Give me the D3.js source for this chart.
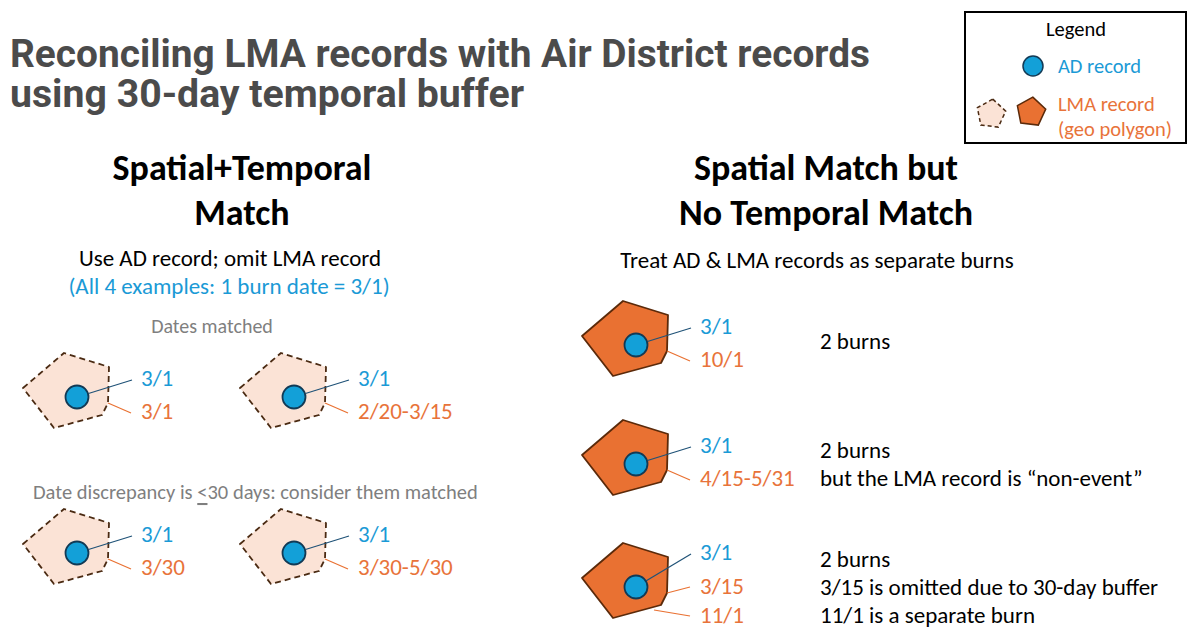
<!DOCTYPE html>
<html>
<head>
<meta charset="utf-8">
<script src="https://cdn.jsdelivr.net/npm/d3@7"></script>
<style>
  html, body { margin: 0; padding: 0; background: #fff; }
  svg { display: block; }
  text { font-family: Carlito, Calibri, Lato, "Noto Sans", sans-serif; }
</style>
</head>
<body>
<svg id="chart" width="1190" height="629"></svg>
<script>
// ---------------- data ----------------
const titleLines = ["Reconciling LMA records with Air District records", "using 30-day temporal buffer"];
const sectionTitles = [["Spatial+Temporal", "Match"], ["Spatial Match but", "No Temporal Match"]];
const sectionSubtitles = ["Use AD record; omit LMA record", "Treat AD & LMA records as separate burns"];
const leftNote = "(All 4 examples: 1 burn date = 3/1)";
const groupLabels = ["Dates matched", "Date discrepancy is ≤30 days: consider them matched"];
const exampleIds = ["m1", "m2", "d1", "d2", "s1", "s2", "s3"];
const exampleKind = ["match", "match", "match", "match", "separate", "separate", "separate"];
const adDates = ["3/1", "3/1", "3/1", "3/1", "3/1", "3/1", "3/1"];
const lmaDates = [["3/1"], ["2/20-3/15"], ["3/30"], ["3/30-5/30"], ["10/1"], ["4/15-5/31"], ["3/15", "11/1"]];
const outcomeNotes = [[], [], [], [], ["2 burns"], ["2 burns", "but the LMA record is \u201cnon-event\u201d"],
  ["2 burns", "3/15 is omitted due to 30-day buffer", "11/1 is a separate burn"]];
const legendTitle = "Legend";
const legendItems = ["AD record", "LMA record", "(geo polygon)"];

// --------------- style ---------------
const C = {
  title: "#4b4b4b", blue: "#1a9ad6", orange: "#e8733a", gray: "#7f7f7f",
  circleFill: "#13a0d8", circleStroke: "#123a55", polyFill: "#e97132", polyStroke: "#5b2a0a",
  lightFill: "#fbe3d6", dashStroke: "#4a2a12", blueLeader: "#1f5277", orangeLeader: "#e97132"
};
const polyShape = [[-54, -9], [-13, -44], [32, -30], [31, 6], [25, 18], [-23, 31]];
const FS = 23;

const svg = d3.select("#chart");

// layout scales
const leftCol = d3.scalePoint().domain([0, 1]).range([77, 294]);
const leftRow = d3.scalePoint().domain([0, 1]).range([397, 553]);
const rightRow = d3.scaleOrdinal().domain([0, 1, 2]).range([345, 464, 587]);
const rightX = 636;

const examples = exampleIds.map((id, i) => {
  let cx, cy;
  if (i < 4) { cx = leftCol(i % 2); cy = leftRow(Math.floor(i / 2)); }
  else { cx = rightX; cy = rightRow(i - 4); }
  return { id, kind: exampleKind[i], ad: adDates[i], lma: lmaDates[i], notes: outcomeNotes[i], cx, cy };
});

// --------------- title ---------------
svg.selectAll("text.title").data(titleLines).join("text")
  .attr("class", "title")
  .attr("x", 10).attr("y", (d, i) => 67 + i * 40)
  .attr("fill", C.title)
  .style("font-family", "Roboto, 'Open Sans', sans-serif")
  .style("font-weight", 700).style("font-size", "38px")
  .attr("textLength", (d, i) => i === 0 ? 860 : 514)
  .attr("lengthAdjust", "spacingAndGlyphs")
  .text(d => d);

// --------------- legend ---------------
const lg = svg.append("g");
lg.append("rect").attr("x", 965).attr("y", 12).attr("width", 221).attr("height", 131)
  .attr("fill", "#fff").attr("stroke", "#000").attr("stroke-width", 2);
lg.append("text").attr("x", 1076).attr("y", 29).attr("text-anchor", "middle")
  .attr("dominant-baseline", "central").style("font-size", "20.5px").attr("fill", "#000").text(legendTitle);
lg.append("circle").attr("cx", 1033).attr("cy", 66).attr("r", 10)
  .attr("fill", C.circleFill).attr("stroke", C.circleStroke).attr("stroke-width", 1.5);
const pent = (cx, cy, r) => d3.range(5).map(k => {
  const a = -Math.PI / 2 + k * 2 * Math.PI / 5 + 0.12;
  return [cx + r * Math.cos(a), cy + r * Math.sin(a)];
});
lg.append("path").attr("d", d3.line()(pent(991, 114, 15)) + "Z")
  .attr("fill", C.lightFill).attr("stroke", C.dashStroke).attr("stroke-width", 1.5).attr("stroke-dasharray", "4,3");
lg.append("path").attr("d", d3.line()(pent(1031, 112, 15)) + "Z")
  .attr("fill", C.polyFill).attr("stroke", C.polyStroke).attr("stroke-width", 1.5);
lg.selectAll("text.li").data(legendItems).join("text").attr("class", "li")
  .attr("x", 1058).attr("y", (d, i) => [66, 104, 129][i])
  .attr("dominant-baseline", "central").style("font-size", "20.5px")
  .attr("fill", (d, i) => i === 0 ? C.blue : C.orange).text(d => d);

// --------------- section headers ---------------
const secX = [242, 826];
sectionTitles.forEach((lines, s) => {
  svg.selectAll("text.sec" + s).data(lines).join("text").attr("class", "sec" + s)
    .attr("x", secX[s]).attr("y", (d, i) => 168 + i * 45)
    .attr("text-anchor", "middle").attr("dominant-baseline", "central")
    .style("font-size", "36px").style("font-weight", 700).attr("fill", "#000").text(d => d);
});
svg.selectAll("text.sub").data(sectionSubtitles).join("text").attr("class", "sub")
  .attr("x", (d, i) => [230, 817][i]).attr("y", (d, i) => [258, 260][i])
  .attr("text-anchor", "middle").attr("dominant-baseline", "central")
  .style("font-size", FS + "px").attr("fill", "#000").text(d => d);
svg.append("text").attr("x", 229).attr("y", 286).attr("text-anchor", "middle").attr("dominant-baseline", "central")
  .style("font-size", FS + "px").attr("fill", C.blue).text(leftNote);

// group labels
svg.append("text").attr("x", 212).attr("y", 326).attr("text-anchor", "middle").attr("dominant-baseline", "central")
  .style("font-size", "20px").attr("fill", C.gray).text(groupLabels[0]);
const g2 = svg.append("text").attr("x", 33).attr("y", 492).attr("dominant-baseline", "central")
  .style("font-size", "20.5px").attr("fill", C.gray);
const parts = groupLabels[1].split("≤");
g2.append("tspan").text(parts[0]);
g2.append("tspan").style("text-decoration", "underline").text("<");
g2.append("tspan").text(parts[1]);

// --------------- examples ---------------
const eg = svg.selectAll("g.ex").data(examples).join("g").attr("class", "ex")
  .attr("transform", d => `translate(${d.cx},${d.cy})`);

eg.append("path").attr("d", d3.line()(polyShape) + "Z")
  .attr("fill", d => d.kind === "match" ? C.lightFill : C.polyFill)
  .attr("stroke", d => d.kind === "match" ? C.dashStroke : C.polyStroke)
  .attr("stroke-width", 1.8)
  .attr("stroke-dasharray", d => d.kind === "match" ? "6,4" : null)
  .attr("stroke-linejoin", "round");

const labX = 64;
const adY = d => d.lma.length > 1 ? -35 : -19;
const lmaY = (d, j) => d.lma.length > 1 ? j * 29 - 1 : 14;

// blue leader
eg.append("line")
  .attr("x1", d => { const ex = labX - 9, ey = adY(d) + 2; const L = Math.hypot(ex, ey); return ex / L * 12; })
  .attr("y1", d => { const ex = labX - 9, ey = adY(d) + 2; const L = Math.hypot(ex, ey); return ey / L * 12; })
  .attr("x2", labX - 9).attr("y2", d => adY(d) + 2)
  .attr("stroke", C.blueLeader).attr("stroke-width", 1.2);

// orange leaders
const lmaStart = [[31, 6], [18, 23]];
eg.each(function (d) {
  const g = d3.select(this);
  d.lma.forEach((t, j) => {
    const st = d.lma.length > 1 ? lmaStart[j] : lmaStart[0];
    g.append("line").attr("x1", st[0]).attr("y1", st[1])
      .attr("x2", labX - 10).attr("y2", lmaY(d, j) + (d.lma.length > 1 ? 1 : 2))
      .attr("stroke", C.orangeLeader).attr("stroke-width", 1.2);
    g.append("text").attr("x", labX).attr("y", lmaY(d, j)).attr("dominant-baseline", "central")
      .style("font-size", FS + "px").attr("fill", C.orange).text(t);
  });
  g.append("text").attr("x", labX).attr("y", adY(d)).attr("dominant-baseline", "central")
    .style("font-size", FS + "px").attr("fill", C.blue).text(d.ad);
  const n = d.notes.length;
  g.selectAll("text.note").data(d.notes).join("text").attr("class", "note")
    .attr("x", 820 - d.cx).attr("y", (t, k) => (k - (n - 1) / 2) * 28 + (n === 1 ? -4 : 0))
    .attr("dominant-baseline", "central").style("font-size", FS + "px").attr("fill", "#000").text(t => t);
});

eg.append("circle").attr("r", 11.5)
  .attr("fill", C.circleFill).attr("stroke", C.circleStroke).attr("stroke-width", 1.8);
</script>
</body>
</html>
